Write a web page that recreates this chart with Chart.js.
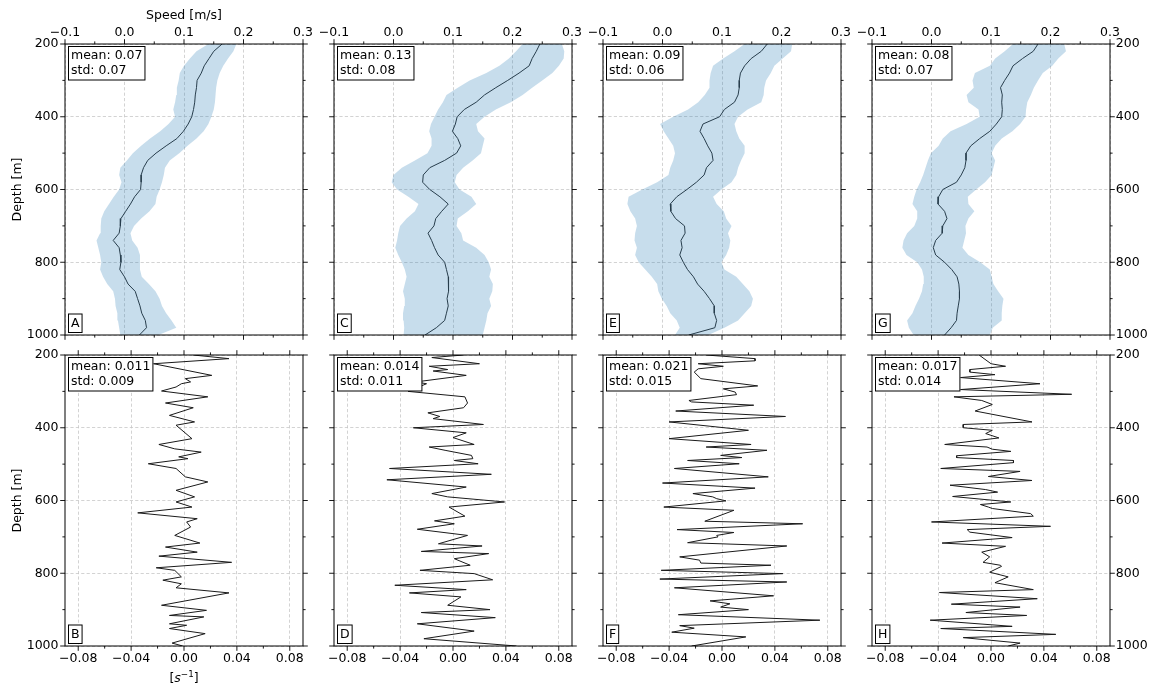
<!DOCTYPE html>
<html>
<head>
<meta charset="utf-8">
<title>Speed and shear profiles</title>
<script src="https://cdn.jsdelivr.net/npm/chart.js@4.4.1/dist/chart.umd.min.js"></script>
<style>
  html, body { margin: 0; padding: 0; background: #fff; }
  #fig { position: relative; width: 1155px; height: 690px; overflow: hidden; }
  #fig canvas { position: absolute; left: 0; top: 0; }
</style>
</head>
<body>
<div id="fig"></div>
<script>
// ---------- tick values ----------
const speedTicks = [-0.1, 0.0, 0.1, 0.2, 0.3];
const speedMinor = [-0.05, 0.05, 0.15, 0.25];
const shearTicks = [-0.08, -0.04, 0.0, 0.04, 0.08];
const shearMinor = [-0.06, -0.02, 0.02, 0.06];
const depthTicks = [200, 400, 600, 800, 1000];
const depthMinor = [300, 500, 700, 900];

// ---------- speed profiles (mean and band edges) ----------
const speedDepth = [200,220,240,260,280,300,320,340,360,380,400,420,440,460,480,500,520,540,560,580,
                    600,620,640,660,680,700,720,740,760,780,800,820,840,860,880,900,920,940,960,980,1000];

const meanA = [0.164,0.150,0.142,0.134,0.129,0.122,0.121,0.119,0.118,0.116,0.113,0.107,0.099,0.088,0.070,0.053,0.039,0.032,0.028,0.028,
               0.027,0.017,0.010,0.002,-0.006,-0.007,-0.009,-0.019,-0.009,-0.007,-0.006,-0.008,0.000,0.006,0.018,0.022,0.026,0.029,0.035,0.037,0.025];
const highA = [0.188,0.183,0.174,0.166,0.160,0.156,0.154,0.153,0.152,0.150,0.146,0.141,0.133,0.121,0.106,0.092,0.076,0.068,0.066,0.063,
               0.059,0.054,0.052,0.042,0.028,0.016,0.010,0.013,0.022,0.026,0.026,0.026,0.029,0.041,0.052,0.059,0.063,0.070,0.079,0.087,0.057];
const lowA  = [0.141,0.121,0.110,0.100,0.093,0.091,0.088,0.087,0.085,0.082,0.085,0.074,0.060,0.043,0.028,0.014,0.004,-0.007,-0.009,-0.005,
               -0.009,-0.018,-0.026,-0.034,-0.039,-0.040,-0.041,-0.047,-0.044,-0.041,-0.039,-0.041,-0.036,-0.029,-0.019,-0.016,-0.015,-0.012,-0.011,-0.009,-0.007];

const meanC = [0.246,0.240,0.233,0.228,0.211,0.192,0.172,0.153,0.139,0.119,0.107,0.104,0.099,0.108,0.113,0.106,0.086,0.061,0.050,0.049,
               0.061,0.078,0.092,0.081,0.071,0.068,0.058,0.064,0.069,0.075,0.086,0.089,0.092,0.093,0.092,0.090,0.092,0.089,0.086,0.072,0.053];
const highC = [0.283,0.287,0.286,0.278,0.267,0.250,0.233,0.217,0.197,0.172,0.153,0.139,0.142,0.153,0.150,0.147,0.133,0.117,0.106,0.103,
               0.111,0.131,0.139,0.125,0.108,0.106,0.114,0.117,0.139,0.153,0.160,0.164,0.161,0.167,0.166,0.161,0.164,0.158,0.156,0.153,0.150];
const lowC  = [0.217,0.206,0.194,0.178,0.156,0.128,0.108,0.089,0.083,0.075,0.069,0.063,0.060,0.064,0.064,0.057,0.036,0.014,0.000,-0.003,
               0.006,0.025,0.042,0.036,0.022,0.011,0.008,0.006,0.003,0.008,0.014,0.019,0.022,0.019,0.016,0.019,0.018,0.016,0.017,0.018,0.017];

const meanE = [0.176,0.166,0.149,0.138,0.131,0.129,0.129,0.127,0.121,0.104,0.096,0.068,0.063,0.070,0.076,0.083,0.085,0.074,0.070,0.057,
               0.041,0.024,0.013,0.014,0.022,0.037,0.038,0.031,0.033,0.029,0.035,0.042,0.052,0.059,0.070,0.079,0.087,0.087,0.091,0.088,0.044];
const highE = [0.218,0.216,0.202,0.188,0.182,0.174,0.171,0.170,0.166,0.143,0.127,0.121,0.124,0.129,0.138,0.138,0.132,0.127,0.124,0.116,
               0.099,0.085,0.091,0.103,0.107,0.116,0.110,0.114,0.112,0.107,0.099,0.104,0.124,0.135,0.146,0.152,0.149,0.138,0.127,0.104,0.077];
const lowE  = [0.138,0.121,0.102,0.085,0.081,0.079,0.079,0.071,0.060,0.043,0.018,-0.004,0.002,0.010,0.018,0.021,0.018,0.013,0.010,-0.009,
               -0.034,-0.057,-0.059,-0.054,-0.046,-0.043,-0.046,-0.047,-0.043,-0.046,-0.040,-0.029,-0.018,-0.009,-0.007,-0.001,0.007,0.013,0.024,0.029,0.021];

const meanG = [0.179,0.171,0.153,0.137,0.131,0.123,0.116,0.119,0.118,0.119,0.118,0.109,0.098,0.081,0.066,0.058,0.058,0.056,0.050,0.042,
               0.019,0.012,0.011,0.022,0.026,0.019,0.018,0.007,0.003,0.007,0.022,0.034,0.043,0.046,0.047,0.047,0.045,0.043,0.042,0.033,0.022];
const highG = [0.223,0.226,0.213,0.203,0.187,0.179,0.172,0.167,0.161,0.159,0.158,0.149,0.136,0.118,0.107,0.101,0.107,0.104,0.101,0.090,
               0.075,0.061,0.062,0.072,0.062,0.057,0.058,0.055,0.052,0.062,0.082,0.098,0.101,0.104,0.112,0.121,0.119,0.118,0.118,0.103,0.098];
const lowG  = [0.137,0.123,0.107,0.098,0.073,0.069,0.071,0.059,0.062,0.079,0.081,0.059,0.032,0.019,0.012,-0.001,-0.006,-0.010,-0.014,-0.019,
               -0.025,-0.029,-0.032,-0.024,-0.024,-0.029,-0.041,-0.047,-0.049,-0.042,-0.024,-0.016,-0.013,-0.014,-0.016,-0.021,-0.027,-0.032,-0.041,-0.038,-0.030];

// ---------- shear profiles [1/s] ----------
const depthB = [200,210,224,256,265,274,279,288,299,315,332,345,366,384,393,430,446,458,467,480,485,499,512,535,549,572,590,604,618,634,
                650,659,673,696,717,728,742,753,770,785,792,810,819,829,840,854,888,902,916,920,939,943,952,966,992,1000];
const shearB = [0.007,0.034,-0.023,0.021,0.001,0.005,-0.002,-0.006,-0.017,0.018,-0.014,0.007,-0.011,0.008,-0.006,0.006,-0.019,-0.007,0.013,-0.004,
                0.003,-0.027,-0.006,0.001,0.018,-0.006,0.008,-0.006,0.006,-0.035,0.010,0.002,0.005,-0.007,0.012,-0.014,0.010,-0.019,0.036,-0.021,
                -0.007,-0.002,-0.016,-0.002,-0.006,0.034,-0.017,0.017,-0.011,0.015,-0.011,0.002,-0.011,0.016,-0.009,-0.001];

const depthD = [200,207,224,231,240,244,256,274,279,300,315,332,345,359,369,375,391,400,414,427,446,453,462,476,485,490,499,512,528,543,
                563,581,590,604,618,643,656,664,679,696,719,725,740,746,760,778,792,801,818,833,845,854,865,888,900,908,922,939,959,980,1000];
const shearD = [0.008,-0.016,0.020,-0.018,-0.004,-0.015,0.010,-0.028,-0.020,-0.034,0.009,0.011,0.008,-0.019,-0.010,-0.015,0.023,-0.030,0.010,0.000,
                0.016,-0.018,-0.006,0.014,0.015,0.001,0.019,-0.048,0.029,-0.050,0.010,-0.016,-0.004,0.039,-0.003,0.009,-0.014,0.001,-0.027,0.011,
                -0.011,0.022,-0.024,0.027,0.001,0.013,-0.025,0.016,0.030,-0.044,0.010,-0.033,0.006,-0.004,0.028,-0.024,0.032,-0.027,0.016,-0.022,0.048];

const depthF = [200,210,216,224,231,238,247,265,285,293,302,309,325,329,338,354,369,384,407,430,446,453,462,476,482,490,499,512,535,552,
                566,581,590,595,601,618,627,657,664,680,688,696,700,716,725,755,764,772,778,792,801,816,824,840,862,876,884,893,900,914,
                929,944,951,962,975,1000];
const shearF = [-0.012,0.025,0.025,-0.018,0.001,-0.018,-0.021,-0.016,0.027,0.001,0.010,0.011,-0.025,-0.023,0.024,-0.035,0.048,-0.040,0.020,-0.040,
                0.022,-0.012,0.034,-0.001,0.015,-0.026,0.013,-0.036,0.035,-0.045,0.025,-0.022,-0.007,-0.004,0.003,-0.044,0.009,-0.013,0.061,-0.034,
                0.009,-0.004,-0.003,-0.026,0.049,-0.032,-0.017,-0.016,0.037,-0.046,0.046,-0.047,0.049,-0.036,0.039,-0.009,0.006,-0.001,0.020,-0.033,
                0.074,-0.032,-0.021,-0.038,0.018,-0.023];

const depthH = [200,224,231,240,247,254,262,279,295,308,315,325,336,354,384,391,400,407,416,428,446,453,459,465,477,482,490,496,512,520,
                534,545,558,570,577,589,604,611,618,622,636,643,659,671,680,687,702,717,726,742,755,770,778,781,797,810,826,845,853,870,
                885,893,908,916,929,946,952,968,977,992,1000];
const shearH = [-0.009,0.000,0.011,-0.016,-0.016,0.003,-0.023,0.037,-0.023,0.061,-0.028,-0.007,0.001,-0.012,0.031,-0.021,-0.021,0.001,-0.004,0.006,
                -0.035,-0.003,0.001,0.015,-0.026,-0.026,0.017,0.017,-0.038,0.022,-0.002,0.031,-0.031,-0.004,0.005,-0.029,0.015,-0.008,-0.002,0.001,
                0.030,0.032,-0.045,0.045,-0.018,-0.016,0.016,-0.037,0.011,-0.007,-0.001,-0.006,0.007,0.008,-0.001,0.013,0.003,0.032,-0.039,0.035,
                -0.030,0.022,-0.019,0.027,-0.046,0.016,-0.038,0.049,-0.021,0.022,0.013];

// ---------- panel contents ----------
const panels = [
  { row: 0, col: 0, tag: 'A', stats: ['mean: 0.07', 'std: 0.07'],   mean: meanA, low: lowA, high: highA },
  { row: 0, col: 1, tag: 'C', stats: ['mean: 0.13', 'std: 0.08'],   mean: meanC, low: lowC, high: highC },
  { row: 0, col: 2, tag: 'E', stats: ['mean: 0.09', 'std: 0.06'],   mean: meanE, low: lowE, high: highE },
  { row: 0, col: 3, tag: 'G', stats: ['mean: 0.08', 'std: 0.07'],   mean: meanG, low: lowG, high: highG },
  { row: 1, col: 0, tag: 'B', stats: ['mean: 0.011', 'std: 0.009'], depth: depthB, vals: shearB },
  { row: 1, col: 1, tag: 'D', stats: ['mean: 0.014', 'std: 0.011'], depth: depthD, vals: shearD },
  { row: 1, col: 2, tag: 'F', stats: ['mean: 0.021', 'std: 0.015'], depth: depthF, vals: shearF },
  { row: 1, col: 3, tag: 'H', stats: ['mean: 0.017', 'std: 0.014'], depth: depthH, vals: shearH },
];

// ---------- figure layout ----------
const W = 1155, H = 690;
const COL_LEFT = [65, 334, 603, 872];
const ROW_TOP = [44, 355];
const PANEL_W = 238, PANEL_H = 291;
const FONT = '"DejaVu Sans", sans-serif';
const FS = 12.5;
const BAND = 'rgba(31,119,180,0.25)';
const GRID = '#c8c8c8';

Chart.defaults.font.family = FONT;
Chart.defaults.font.size = FS;
Chart.defaults.color = '#000';

const minus = s => s.replace('-', '\u2212');
const fmtSpeed = v => minus(Number(v).toFixed(1));
const fmtShear = v => minus(Number(v).toFixed(2));

// frame, tick marks on all four sides, annotation boxes
const panelDecor = {
  id: 'panelDecor',
  afterDatasetsDraw(chart, args, o) {
    const { ctx, chartArea: a, scales: { x, y } } = chart;
    ctx.save();
    ctx.strokeStyle = '#000';
    ctx.lineWidth = 1;
    ctx.strokeRect(a.left, a.top, a.width, a.height);

    ctx.lineWidth = 0.9;
    ctx.beginPath();
    const xt = (vals, len) => vals.forEach(v => {
      const px = x.getPixelForValue(v);
      ctx.moveTo(px, a.top); ctx.lineTo(px, a.top - len);
      ctx.moveTo(px, a.bottom); ctx.lineTo(px, a.bottom + len);
    });
    const yt = (vals, len) => vals.forEach(v => {
      const py = y.getPixelForValue(v);
      ctx.moveTo(a.left, py); ctx.lineTo(a.left - len, py);
      ctx.moveTo(a.right, py); ctx.lineTo(a.right + len, py);
    });
    xt(o.xMajor, 4.8); xt(o.xMinor, 2.6);
    yt(depthTicks, 4.8); yt(depthMinor, 2.6);
    ctx.stroke();

    // statistics box
    ctx.font = FS + 'px ' + FONT;
    ctx.textBaseline = 'middle';
    ctx.textAlign = 'left';
    const tw = Math.max(...o.stats.map(t => ctx.measureText(t).width));
    const bx = a.left + 3.5, by = a.top + 2.5, bw = tw + 5, bh = 33.5;
    ctx.fillStyle = '#fff';
    ctx.fillRect(bx, by, bw, bh);
    ctx.lineWidth = 1;
    ctx.strokeRect(bx, by, bw, bh);
    ctx.fillStyle = '#000';
    ctx.fillText(o.stats[0], bx + 2.5, by + 9.5);
    ctx.fillText(o.stats[1], bx + 2.5, by + 24.5);

    // panel letter
    const lw = ctx.measureText(o.tag).width + 5;
    const lh = 18.5;
    const lx = a.left + 3.5, ly = a.bottom - 2.5 - lh;
    ctx.fillStyle = '#fff';
    ctx.fillRect(lx, ly, lw, lh);
    ctx.strokeRect(lx, ly, lw, lh);
    ctx.fillStyle = '#000';
    ctx.textAlign = 'center';
    ctx.fillText(o.tag, lx + lw / 2, ly + lh / 2 + 0.5);

    // unit label under the shear axis: [s^-1]
    if (o.unit) {
      const parts = [
        { t: '[', f: FS + 'px ' + FONT, dy: 0 },
        { t: 's', f: 'italic ' + FS + 'px ' + FONT, dy: 0 },
        { t: '\u22121', f: (FS * 0.7) + 'px ' + FONT, dy: -5 },
        { t: ']', f: FS + 'px ' + FONT, dy: 0 },
      ];
      let total = 0;
      parts.forEach(p => { ctx.font = p.f; p.w = ctx.measureText(p.t).width; total += p.w; });
      let cx = (a.left + a.right) / 2 - total / 2;
      const base = a.bottom + 36;
      ctx.textAlign = 'left';
      ctx.textBaseline = 'alphabetic';
      parts.forEach(p => { ctx.font = p.f; ctx.fillText(p.t, cx, base + p.dy); cx += p.w; });
    }
    ctx.restore();
  }
};

const fig = document.getElementById('fig');

panels.forEach(p => {
  const cv = document.createElement('canvas');
  cv.width = W; cv.height = H;
  cv.style.width = W + 'px'; cv.style.height = H + 'px';
  fig.appendChild(cv);

  const left = COL_LEFT[p.col], right = left + PANEL_W;
  const top = ROW_TOP[p.row], bottom = top + PANEL_H;
  const upper = p.row === 0;
  const rightAxis = p.col === 3;
  const xMajor = upper ? speedTicks : shearTicks;
  const xMinor = upper ? speedMinor : shearMinor;

  const datasets = upper ? [
    { data: speedDepth.map((d, i) => ({ x: p.low[i], y: d })), borderWidth: 0, pointRadius: 0, fill: false },
    { data: speedDepth.map((d, i) => ({ x: p.high[i], y: d })), borderWidth: 0, pointRadius: 0, fill: '-1', backgroundColor: BAND },
    { data: speedDepth.map((d, i) => ({ x: p.mean[i], y: d })), borderWidth: 1, borderColor: '#2a2a2a', pointRadius: 0, fill: false },
  ] : [
    { data: p.depth.map((d, i) => ({ x: p.vals[i], y: d })), borderWidth: 1, borderColor: '#1a1a1a', pointRadius: 0, fill: false },
  ];

  const gridOpts = { color: GRID, lineWidth: 0.8, drawTicks: false };
  const borderOpts = { display: false, dash: [3.2, 2.2] };

  new Chart(cv, {
    type: 'line',
    data: { datasets },
    options: {
      responsive: false,
      animation: false,
      events: [],
      indexAxis: 'y',
      layout: {
        autoPadding: false,
        padding: {
          left: rightAxis ? left : 0,
          right: rightAxis ? 0 : W - right,
          top: upper ? 0 : top,
          bottom: upper ? H - bottom : 0,
        }
      },
      plugins: {
        legend: { display: false },
        tooltip: { enabled: false },
        panelDecor: { xMajor, xMinor, stats: p.stats, tag: p.tag, unit: !upper && p.col === 0 },
      },
      scales: {
        x: {
          type: 'linear',
          position: upper ? 'top' : 'bottom',
          min: upper ? -0.1 : -0.09,
          max: upper ? 0.3 : 0.09,
          afterBuildTicks: s => { s.ticks = xMajor.map(v => ({ value: v })); },
          afterFit: s => { s.height = upper ? top : H - bottom; },
          grid: gridOpts,
          border: borderOpts,
          ticks: { padding: upper ? 4 : 5.5, maxRotation: 0, autoSkip: false, callback: upper ? fmtSpeed : fmtShear },
          title: { display: upper && p.col === 0, text: 'Speed [m/s]', padding: { top: 8, bottom: 0 } },
        },
        y: {
          type: 'linear',
          position: rightAxis ? 'right' : 'left',
          reverse: true,
          min: 200,
          max: 1000,
          afterBuildTicks: s => { s.ticks = depthTicks.map(v => ({ value: v })); },
          afterFit: s => { s.width = rightAxis ? W - right : left; },
          grid: gridOpts,
          border: borderOpts,
          ticks: { display: p.col === 0 || rightAxis, padding: rightAxis ? 5.8 : 6.5, callback: v => String(v) },
          title: { display: p.col === 0, text: 'Depth [m]', padding: { top: 10.5, bottom: 0 } },
        }
      }
    },
    plugins: [panelDecor]
  });
});
</script>
</body>
</html>
